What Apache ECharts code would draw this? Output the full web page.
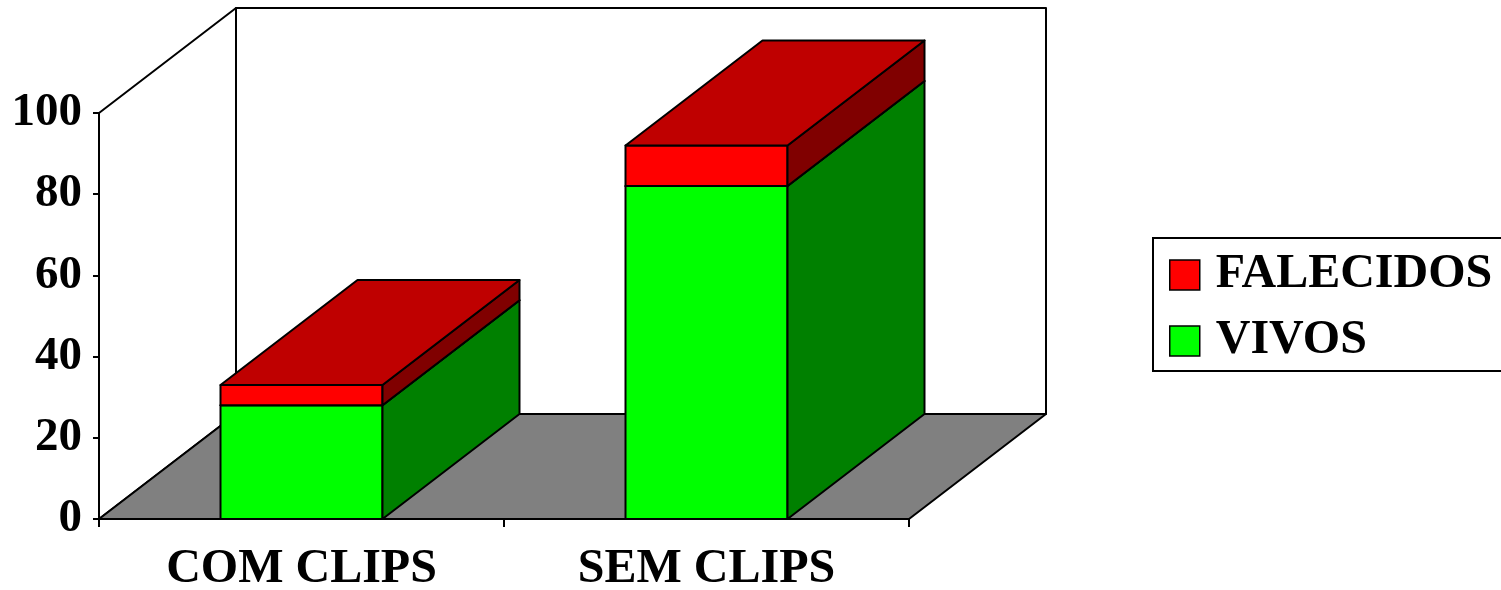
<!DOCTYPE html>
<html>
<head>
<meta charset="utf-8">
<script src="https://cdn.jsdelivr.net/npm/echarts@6/dist/echarts.min.js"></script>
<style>
html,body{margin:0;padding:0;background:#fff;}
#chart{width:1501px;height:590px;}
</style>
</head>
<body>
<div id="chart"></div>
<script>
// ---- data ----
const categories = ['COM CLIPS', 'SEM CLIPS'];
const vivos = [28, 82];
const falecidos = [5, 10];
const yTicks = [0, 20, 40, 60, 80, 100];

// ---- style constants ----
const FONT = "'Liberation Serif', 'Times New Roman', serif";
const DX = 137, DY = -105;   // 3D depth offset (px)
const LW = 2;

const chart = echarts.init(document.getElementById('chart'), null, {renderer: 'canvas'});

function box(api, idx, base, val, cFront, cSide, cTop) {
  const xc = api.coord([idx, 0])[0];
  const w = api.size([1, 0])[0] * 0.4;
  const xl = xc - w / 2, xr = xc + w / 2;
  const y0 = api.coord([idx, base])[1];
  const y1 = api.coord([idx, base + val])[1];
  const st = (c) => ({fill: c, stroke: '#000', lineWidth: LW, lineJoin: 'round'});
  return {
    type: 'group',
    children: [
      {type: 'polygon', shape: {points: [[xl, y0], [xr, y0], [xr, y1], [xl, y1]]}, style: st(cFront)},
      {type: 'polygon', shape: {points: [[xr, y0], [xr + DX, y0 + DY], [xr + DX, y1 + DY], [xr, y1]]}, style: st(cSide)},
      {type: 'polygon', shape: {points: [[xl, y1], [xr, y1], [xr + DX, y1 + DY], [xl + DX, y1 + DY]]}, style: st(cTop)}
    ]
  };
}

const option = {
  backgroundColor: '#fff',
  animation: false,
  grid: {left: 99, right: 592, top: 113, bottom: 71, containLabel: false, outerBoundsMode: 'none'},
  legend: {
    orient: 'vertical',
    left: 1153, top: 238,
    padding: [13, 12, 6, 16],
    itemGap: 18,
    itemWidth: 30, itemHeight: 30,
    icon: 'rect',
    borderColor: '#000', borderWidth: 2,
    data: ['FALECIDOS', 'VIVOS'],
    itemStyle: {borderColor: '#000', borderWidth: 1.5},
    textStyle: {fontFamily: FONT, fontWeight: 'bold', fontSize: 48, color: '#000', lineHeight: 48, padding: [0, 0, 0, 11]}
  },
  xAxis: {
    type: 'category',
    data: categories,
    boundaryGap: true,
    axisLine: {show: true, lineStyle: {color: '#000', width: 2}},
    axisTick: {show: true, length: 8, lineStyle: {color: '#000', width: 2}},
    axisLabel: {fontFamily: FONT, fontWeight: 'bold', fontSize: 48, color: '#000', margin: 27},
    splitLine: {show: false}
  },
  yAxis: {
    type: 'value',
    min: yTicks[0], max: yTicks[yTicks.length - 1], interval: yTicks[1] - yTicks[0],
    axisLine: {show: true, lineStyle: {color: '#000', width: 2}},
    axisTick: {show: true, length: 6, lineStyle: {color: '#000', width: 2}},
    axisLabel: {fontFamily: FONT, fontWeight: 'bold', fontSize: 47, color: '#000', margin: 17},
    splitLine: {show: false}
  },
  series: [
    {
      type: 'custom',
      name: 'walls',
      z: 1,
      silent: true,
      data: [[0, 0]],
      renderItem: function (params, api) {
        const cs = params.coordSys;
        const xL = cs.x, xR = cs.x + cs.width;
        const yB = api.coord([0, yTicks[0]])[1];
        const yT = api.coord([0, yTicks[yTicks.length - 1]])[1];
        const st = (c) => ({fill: c, stroke: '#000', lineWidth: LW, lineJoin: 'round'});
        return {
          type: 'group',
          children: [
            {type: 'polygon', shape: {points: [[xL + DX, yT + DY], [xR + DX, yT + DY], [xR + DX, yB + DY], [xL + DX, yB + DY]]}, style: st('#fff')},
            {type: 'polygon', shape: {points: [[xL, yT], [xL + DX, yT + DY], [xL + DX, yB + DY], [xL, yB]]}, style: st('#fff')},
            {type: 'polygon', shape: {points: [[xL, yB], [xR, yB], [xR + DX, yB + DY], [xL + DX, yB + DY]]}, style: st('#808080')}
          ]
        };
      }
    },
    {
      type: 'custom',
      name: 'VIVOS',
      z: 3,
      itemStyle: {color: '#00FF00'},
      data: vivos.map((v, i) => [i, 0, v]),
      renderItem: function (params, api) {
        return box(api, api.value(0), api.value(1), api.value(2), '#00FF00', '#008000', '#00C000');
      }
    },
    {
      type: 'custom',
      name: 'FALECIDOS',
      z: 4,
      itemStyle: {color: '#FF0000'},
      data: falecidos.map((v, i) => [i, vivos[i], v]),
      renderItem: function (params, api) {
        return box(api, api.value(0), api.value(1), api.value(2), '#FF0000', '#800000', '#BF0000');
      }
    }
  ]
};
chart.setOption(option);
</script>
</body>
</html>
